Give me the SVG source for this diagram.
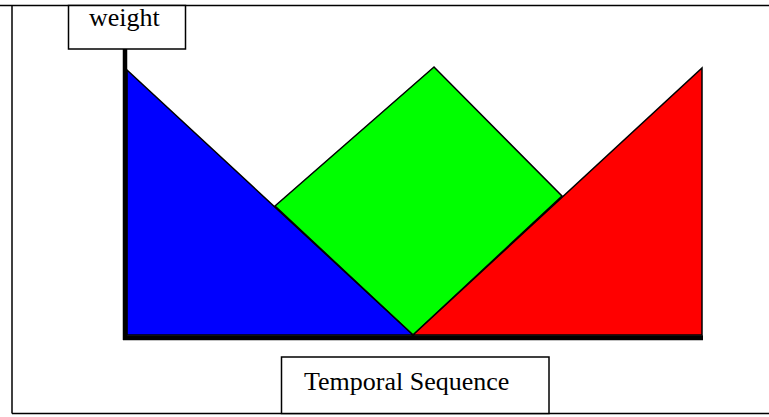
<svg xmlns="http://www.w3.org/2000/svg" width="769" height="417" viewBox="0 0 769 417">
<style>
.frame{stroke:#000;stroke-width:1.5;fill:none}
.box{fill:#fff;stroke:#000;stroke-width:1.5}
.lbl{font-family:"Liberation Serif","Times New Roman",serif;font-size:26px;fill:#000}
.shape{stroke:#000;stroke-width:1.5;stroke-linejoin:miter}
.axis{stroke:#000;fill:none}
</style>
<rect width="769" height="417" fill="#fff"/>
<g id="frame">
<line class="frame" x1="0" y1="5.5" x2="769" y2="5.5"/>
<line class="frame" x1="12" y1="5.5" x2="12" y2="413.5"/>
<line class="frame" x1="12" y1="413.5" x2="769" y2="413.5"/>
</g>
<g id="green">
<polygon class="shape" fill="#00ff00" points="434,67 275,206 413,335 562,196"/>
</g>
<g id="blue">
<polygon class="shape" fill="#0000ff" points="127,70 413,335 127,335"/>
</g>
<g id="red">
<polygon class="shape" fill="#ff0000" points="413,335 702,68 702,335"/>
</g>
<g id="connectors">
<line class="axis" x1="125" y1="49" x2="125" y2="340" stroke-width="4.5"/>
<line class="axis" x1="123" y1="337.8" x2="703" y2="337.8" stroke-width="5"/>
</g>
<g id="weight">
<rect class="box" x="68.5" y="5.5" width="117" height="43.5"/>
<text class="lbl" x="89" y="26">weight</text>
</g>
<g id="temporal">
<rect class="box" x="281.5" y="357" width="267.5" height="56.5"/>
<text class="lbl" x="304" y="390">Temporal Sequence</text>
</g>
</svg>
